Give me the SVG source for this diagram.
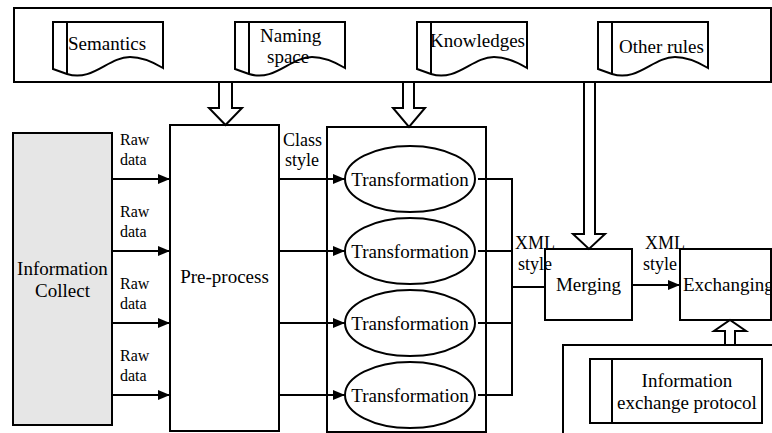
<svg xmlns="http://www.w3.org/2000/svg" width="772" height="433" viewBox="0 0 772 433">
  <style>
    .box { fill: #fff; stroke: #000; stroke-width: 2; }
    .grey { fill: #e6e6e6; stroke: #000; stroke-width: 2; }
    .line { fill: none; stroke: #000; stroke-width: 2; }
    .big { fill: #fff; stroke: #000; stroke-width: 2; }
    text { font-family: 'Liberation Serif', Tinos, 'Nimbus Roman', 'Nimbus Roman No9 L', FreeSerif, 'DejaVu Serif', 'Noto Serif', Times, serif; fill: #000; }
    .t { font-size: 19px; }
    .s { font-size: 16px; }
    .m { font-size: 18px; }
    .c { text-anchor: middle; }
  </style>
  <defs>
    <marker id="arrow" markerUnits="userSpaceOnUse" markerWidth="12" markerHeight="10" refX="12" refY="5" orient="auto">
      <path d="M0,0 L12,5 L0,10 Z" fill="#000"/>
    </marker>
    <!-- document symbol, 110 wide, wavy bottom -->
    <g id="doc">
      <path class="box" d="M0,0 H110 V46 C100,40 90,35 77,35 C55,35 40,60 14,52 L0,47 Z"/>
      <path class="line" d="M14,0 V52"/>
    </g>
  </defs>

  <!-- rule sources -->
  <g id="rules">
    <rect class="box" x="14" y="8" width="757" height="74"/>
    <use href="#doc" x="53" y="22"/>
    <use href="#doc" x="235" y="22"/>
    <use href="#doc" x="417" y="22"/>
    <use href="#doc" x="598" y="22"/>
    <text class="t" x="68" y="50">Semantics</text>
    <text class="t" x="260" y="42">Naming</text>
    <text class="t" x="267" y="63">space</text>
    <text class="t" x="430" y="47">Knowledges</text>
    <text class="t" x="619" y="53">Other rules</text>
  </g>

  <g id="info-collect">
    <rect class="grey" x="13" y="133" width="99" height="292"/>
    <text class="t c" x="62.5" y="275">Information</text>
    <text class="t c" x="62.5" y="297">Collect</text>
  </g>

  <g id="pre-process">
    <rect class="box" x="170" y="125" width="109" height="306"/>
    <text class="t c" x="224.5" y="283">Pre-process</text>
  </g>

  <g id="transformations">
    <rect class="box" x="327" y="127" width="159" height="305"/>
    <ellipse class="box" cx="410" cy="179" rx="65" ry="33"/>
    <ellipse class="box" cx="410" cy="251" rx="65" ry="33"/>
    <ellipse class="box" cx="410" cy="323" rx="65" ry="33"/>
    <ellipse class="box" cx="410" cy="395" rx="65" ry="33"/>
    <text class="t c" x="410" y="186">Transformation</text>
    <text class="t c" x="410" y="258">Transformation</text>
    <text class="t c" x="410" y="330">Transformation</text>
    <text class="t c" x="410" y="402">Transformation</text>
  </g>

  <g id="merging">
    <rect class="box" x="545" y="249" width="87" height="71"/>
    <text class="t c" x="588.5" y="291">Merging</text>
  </g>

  <g id="exchanging">
    <rect class="box" x="680" y="249" width="91" height="71"/>
    <text class="t" x="683" y="291">Exchanging</text>
  </g>

  <g id="protocol">
    <rect class="box" x="563" y="345" width="240" height="120"/>
    <rect class="box" x="590" y="359" width="172" height="64"/>
    <path class="line" d="M612,359 V423"/>
    <text class="t c" x="687" y="387">Information</text>
    <text class="t c" x="687" y="409">exchange protocol</text>
  </g>

  <g id="connectors">
    <!-- hollow flow arrows -->
    <polygon class="big" points="219,82 219,108 209,108 225.5,125 242,108 232,108 232,82"/>
    <polygon class="big" points="403,82 403,108 393,108 409,127 425,108 414,108 414,82"/>
    <polygon class="big" points="584,82 584,234 573,234 589,249 605,234 595,234 595,82"/>
    <polygon class="big" points="725,345 725,331 714,331 730,320 746,331 735,331 735,345"/>

    <!-- raw data -->
    <path class="line" d="M112,179 H170" marker-end="url(#arrow)"/>
    <path class="line" d="M112,251 H170" marker-end="url(#arrow)"/>
    <path class="line" d="M112,323 H170" marker-end="url(#arrow)"/>
    <path class="line" d="M112,395 H170" marker-end="url(#arrow)"/>
    <!-- class style -->
    <path class="line" d="M279,179 H345" marker-end="url(#arrow)"/>
    <path class="line" d="M279,251 H345" marker-end="url(#arrow)"/>
    <path class="line" d="M279,323 H345" marker-end="url(#arrow)"/>
    <path class="line" d="M279,395 H345" marker-end="url(#arrow)"/>
    <!-- collect the transformation outputs -->
    <path class="line" d="M478,179 H512 M478,251 H512 M478,323 H512 M478,395 H512 M512,178 V396 M512,287 H545"/>
    <!-- merged result to exchange -->
    <path class="line" d="M632,285 H680" marker-end="url(#arrow)"/>

    <text class="s" x="120" y="145">Raw</text>
    <text class="s" x="120" y="165">data</text>
    <text class="s" x="120" y="217">Raw</text>
    <text class="s" x="120" y="237">data</text>
    <text class="s" x="120" y="289">Raw</text>
    <text class="s" x="120" y="309">data</text>
    <text class="s" x="120" y="361">Raw</text>
    <text class="s" x="120" y="381">data</text>
    <text class="m" x="283" y="146">Class</text>
    <text class="m" x="285" y="166">style</text>
    <text class="m" x="515" y="249">XML</text>
    <text class="m" x="518" y="270">style</text>
    <text class="m" x="645" y="249">XML</text>
    <text class="m" x="643" y="270">style</text>
  </g>
</svg>
